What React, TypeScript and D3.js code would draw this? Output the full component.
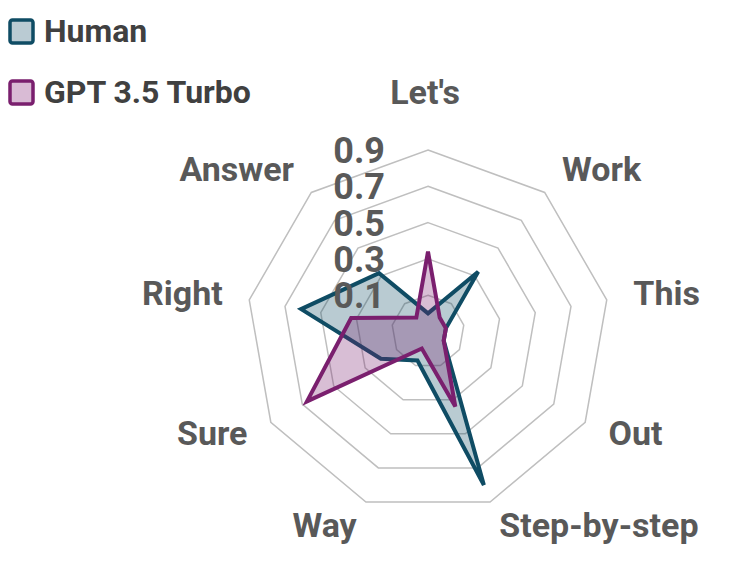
import React, { useEffect, useRef } from 'react';
import * as d3 from 'd3';

const categories = ["Let's", 'Work', 'This', 'Out', 'Step-by-step', 'Way', 'Sure', 'Right', 'Answer'];
const humanValues = [0.0, 0.33, 0.0, 0.0, 0.8, 0.07, 0.2, 0.61, 0.32];
const gptValues = [0.34, 0.0, 0.0, 0.0, 0.34, 0.0, 0.67, 0.33, 0.0];
const ringTicks = [0.1, 0.3, 0.5, 0.7, 0.9];
const seriesNames = ['Human', 'GPT 3.5 Turbo'];

const strokeColors = ['#0f4c64', '#7a1f6e'];
const fillColors = ['rgba(15,76,100,0.29)', 'rgba(122,31,110,0.29)'];
const legendFill = ['#bacbd3', '#d9bbd5'];

const App = () => {
  const svgRef = useRef<SVGSVGElement>(null);

  useEffect(() => {
    const width = 734;
    const height = 563;
    const cx = 428;
    const cy = 331.5;
    const outer = 181.5;
    const font = 'Roboto, "Liberation Sans", sans-serif';

    const svg = d3.select(svgRef.current)
      .attr('width', width)
      .attr('height', height)
      .style('display', 'block');
    svg.selectAll('*').remove();

    // radial scale: center is -0.1, outer ring 0.9
    const r = d3.scaleLinear().domain([-0.1, 0.9]).range([0, outer]);
    const n = categories.length;
    const angle = d3.scalePoint<number>().domain(d3.range(n + 1)).range([0, 2 * Math.PI]);

    const g = svg.append('g').attr('transform', `translate(${cx},${cy})`);

    const ringLine = d3.lineRadial<number>()
      .angle((_, i) => angle(i % n)!)
      .radius(d => r(d))
      .curve(d3.curveLinearClosed);

    // grid rings
    g.append('g')
      .selectAll('path')
      .data(ringTicks)
      .join('path')
      .attr('d', t => ringLine(d3.range(n).map(() => t)))
      .attr('fill', 'none')
      .attr('stroke', '#bfbfbf')
      .attr('stroke-width', 1.5);

    // series
    const series = [humanValues, gptValues];
    const areaLine = d3.lineRadial<number>()
      .angle((_, i) => angle(i)!)
      .radius(d => r(d))
      .curve(d3.curveLinearClosed);

    g.append('g')
      .selectAll('path')
      .data(series)
      .join('path')
      .attr('d', d => areaLine(d))
      .attr('fill', (_, i) => fillColors[i])
      .attr('stroke', (_, i) => strokeColors[i])
      .attr('stroke-width', 4)
      .attr('stroke-linejoin', 'miter');

    // tick labels
    g.append('g')
      .selectAll('text')
      .data(ringTicks)
      .join('text')
      .attr('x', -43)
      .attr('y', t => -r(t))
      .attr('dy', '0.36em')
      .attr('text-anchor', 'end')
      .style('font', `bold 36px ${font}`)
      .attr('fill', '#595959')
      .text(t => d3.format('.1f')(t));

    // category labels
    g.append('g')
      .selectAll('text')
      .data(categories)
      .join('text')
      .each(function (d, i) {
        const a = angle(i)!;
        const s = Math.sin(a);
        const c = Math.cos(a);
        const top = Math.abs(s) < 0.1;
        const rad = top ? outer + 56 : outer + 27;
        d3.select(this)
          .attr('x', top ? -3 : rad * s)
          .attr('y', -rad * c)
          .attr('dy', '0.28em')
          .attr('text-anchor', top ? 'middle' : s > 0 ? 'start' : 'end');
      })
      .style('font', `bold 34px ${font}`)
      .attr('fill', '#595959')
      .text(d => d);

    // legend
    const legend = svg.append('g')
      .selectAll('g')
      .data(seriesNames)
      .join('g')
      .attr('transform', (_, i) => `translate(10,${20 + i * 61})`);

    legend.append('rect')
      .attr('x', 0)
      .attr('y', 0)
      .attr('width', 23)
      .attr('height', 23)
      .attr('rx', 2.5)
      .attr('fill', (_, i) => legendFill[i])
      .attr('stroke', (_, i) => strokeColors[i])
      .attr('stroke-width', 3.5);

    legend.append('text')
      .attr('x', 34)
      .attr('y', 11)
      .attr('dy', '0.33em')
      .style('font', `bold 32px ${font}`)
      .attr('fill', '#404040')
      .text(d => d);
  }, []);

  return (
    <div style={{ position: 'absolute', left: 0, top: 0 }}>
      <svg ref={svgRef}></svg>
    </div>
  );
};

export default App;
